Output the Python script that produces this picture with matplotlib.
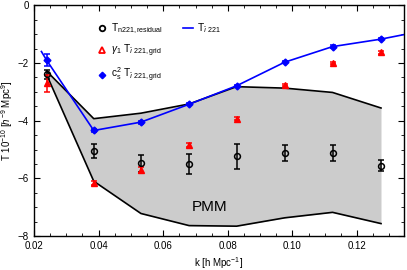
import numpy as np
import matplotlib.pyplot as plt
from matplotlib.ticker import MultipleLocator
from matplotlib.lines import Line2D

plt.rcParams['font.family'] = ['Liberation Sans', 'DejaVu Sans']
plt.rcParams['mathtext.fontset'] = 'custom'
plt.rcParams['mathtext.rm'] = 'Liberation Sans'
plt.rcParams['mathtext.it'] = 'Liberation Sans:italic'
plt.rcParams['axes.unicode_minus'] = True

# k bins
k = [0.0239, 0.0385, 0.0531, 0.0680, 0.0827, 0.0976, 0.1124, 0.1274]

# T_n221, residual
t_res = [-2.39, -5.05, -5.48, -5.49, -5.24, -5.12, -5.11, -5.56]
t_res_err = [0.15, 0.23, 0.30, 0.35, 0.44, 0.29, 0.28, 0.20]

# gamma_1 T_grid
t_gam = [-2.70, -6.16, -5.72, -4.85, -3.93, -2.76, -2.00, -1.63]
t_gam_err = [0.30, 0.08, 0.10, 0.06, 0.05, 0.05, 0.05, 0.05]

# c_s^2 T_grid
t_cs = [-1.90, -4.34, -4.05, -3.43, -2.79, -1.97, -1.43, -1.17]
t_cs_err = [0.20, 0.06, 0.05, 0.04, 0.04, 0.04, 0.04, 0.04]

# T_221 curve
k_line = [0.0223, 0.0239, 0.0385, 0.0531, 0.0680, 0.0827, 0.0976, 0.1124, 0.1274, 0.1360]
t_line = [-1.60, -1.90, -4.34, -4.05, -3.43, -2.79, -1.97, -1.43, -1.17, -0.98]

# PMM band
pmm_hi = [-2.28, -3.93, -3.74, -3.42, -2.82, -2.87, -3.02, -3.56]
pmm_lo = [-2.40, -6.10, -7.22, -7.64, -7.66, -7.37, -7.18, -7.57]

fig = plt.figure(figsize=(4.07, 2.70), dpi=100)
ax = fig.add_axes([0.0835, 0.126, 0.909, 0.854])

ax.fill_between(k, pmm_lo, pmm_hi, color='#cccccc', lw=0)
ax.plot(k, pmm_hi, color='black', lw=1.2)
ax.plot(k, pmm_lo, color='black', lw=1.2)
ax.text(0.0688, -7.0, 'PMM', fontsize=11, va='center')

ax.errorbar(k, t_res, yerr=t_res_err, fmt='o', ms=4.2, mfc='none', mec='black',
            mew=1.1, ecolor='black', elinewidth=1.1, capsize=2, capthick=1.1)
ax.errorbar(k, t_gam, yerr=t_gam_err, fmt='^', ms=4.5, color='red', mec='red',
            elinewidth=1.1, capsize=2, capthick=1.1)
ax.errorbar(k, t_cs, yerr=t_cs_err, fmt='D', ms=3.5, color='blue', mec='blue',
            elinewidth=1.1, capsize=2, capthick=1.1)
ax.plot(k_line, t_line, color='blue', lw=1.2)

ax.set_xlim(0.02, 0.1345)
ax.set_ylim(-8, 0)
ax.xaxis.set_major_locator(MultipleLocator(0.02))
ax.xaxis.set_minor_locator(MultipleLocator(0.005))
ax.yaxis.set_major_locator(MultipleLocator(2))
ax.yaxis.set_minor_locator(MultipleLocator(0.5))
ax.xaxis.set_major_formatter(plt.FuncFormatter(lambda v, p: f'{v:.2f}'))
ax.tick_params(which='both', direction='in', top=True, right=True, labelsize=7)
ax.tick_params(which='major', length=4)
ax.tick_params(which='minor', length=2)
for s in ax.spines.values():
    s.set_linewidth(1.0)

ax.set_xlabel(r'k [h Mpc$^{-1}$]', fontsize=7, labelpad=3)
ax.set_ylabel(r'T 10$^{-10}$ [$h^{-9}$ Mpc$^{9}$]', fontsize=7, labelpad=2)

handles = [Line2D([], [], ls='none', marker='o', ms=4, mfc='none', mec='black', mew=1.3),
           Line2D([], [], ls='none', marker='^', ms=5, mfc='none', mec='red', mew=1.3),
           Line2D([], [], ls='none', marker='D', ms=3.3, color='blue'),
           Line2D([], [], color='blue', lw=1.2),
           Line2D([], [], ls='none'),
           Line2D([], [], ls='none')]
labels = [r'T$_{\mathrm{n221,residual}}$',
          r'$\gamma_1$ T$_{\ddot{\imath}\ 221\mathrm{,grid}}$',
          r'c$_\mathrm{s}^2$ T$_{\ddot{\imath}\ 221\mathrm{,grid}}$',
          r'T$_{\ddot{\imath}\ 221}$', '', '']
ax.legend(handles, labels, ncol=2, loc='upper left',
          bbox_to_anchor=(0.145, 0.97), frameon=False,
          fontsize=7.3, labelspacing=0.65, columnspacing=2.0, handlelength=1.0,
          handletextpad=0.4)

fig.savefig('out.png', dpi=100)
